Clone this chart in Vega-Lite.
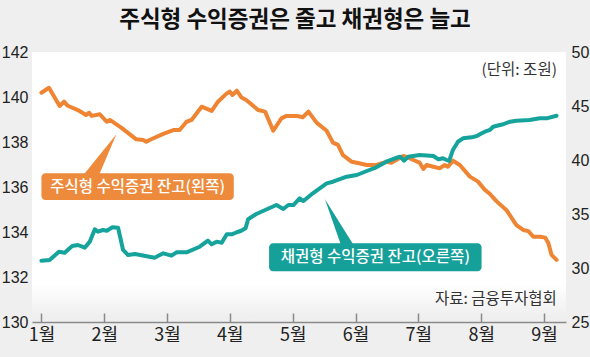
{
  "$schema": "https://vega.github.io/schema/vega-lite/v6.json",
  "width": 534,
  "height": 270,
  "autosize": {"type": "none"},
  "padding": {"left": 32, "top": 52, "right": 24, "bottom": 35},
  "background": "#efefef",
  "config": {
    "view": {"stroke": null, "fill": {"gradient": "linear", "x1": 0, "y1": 0, "x2": 0, "y2": 1, "stops": [{"offset": 0, "color": "#ffffff"}, {"offset": 0.86, "color": "#ffffff"}, {"offset": 0.98, "color": "#efefef"}]}}
  },
  "title": {
    "text": "주식형 수익증권은 줄고 채권형은 늘고",
    "font": "Noto Sans CJK KR",
    "fontSize": 22.5,
    "fontWeight": "bold",
    "color": "#111111",
    "anchor": "middle",
    "offset": 13,
    "dx": -4
  },
  "datasets": {
    "stock": [
      {"m": 0.0, "v": 140.19}, {"m": 0.12, "v": 140.41}, {"m": 0.29, "v": 139.6}, {"m": 0.36, "v": 139.79},
      {"m": 0.42, "v": 139.61}, {"m": 0.58, "v": 139.42}, {"m": 0.71, "v": 139.2}, {"m": 0.76, "v": 139.3},
      {"m": 0.8, "v": 139.16}, {"m": 0.93, "v": 139.23}, {"m": 1.04, "v": 138.9}, {"m": 1.09, "v": 138.98},
      {"m": 1.27, "v": 138.64}, {"m": 1.51, "v": 138.12}, {"m": 1.62, "v": 138.09}, {"m": 1.67, "v": 138.01},
      {"m": 1.72, "v": 138.09}, {"m": 1.94, "v": 138.36}, {"m": 2.1, "v": 138.53}, {"m": 2.2, "v": 138.53},
      {"m": 2.31, "v": 138.9}, {"m": 2.39, "v": 138.98}, {"m": 2.55, "v": 139.57}, {"m": 2.71, "v": 139.38},
      {"m": 2.81, "v": 139.79}, {"m": 2.95, "v": 140.16}, {"m": 3.0, "v": 140.24}, {"m": 3.04, "v": 140.09},
      {"m": 3.11, "v": 140.28}, {"m": 3.18, "v": 139.99}, {"m": 3.26, "v": 139.87}, {"m": 3.45, "v": 139.42},
      {"m": 3.56, "v": 139.35}, {"m": 3.69, "v": 138.5}, {"m": 3.82, "v": 139.05}, {"m": 3.9, "v": 139.16},
      {"m": 4.06, "v": 139.16}, {"m": 4.16, "v": 139.1}, {"m": 4.25, "v": 139.35}, {"m": 4.38, "v": 138.86},
      {"m": 4.54, "v": 138.5}, {"m": 4.64, "v": 137.97}, {"m": 4.72, "v": 137.87}, {"m": 4.8, "v": 137.42},
      {"m": 4.94, "v": 137.12}, {"m": 5.02, "v": 137.08}, {"m": 5.18, "v": 136.98}, {"m": 5.33, "v": 136.98},
      {"m": 5.49, "v": 137.12}, {"m": 5.57, "v": 137.08}, {"m": 5.76, "v": 137.38}, {"m": 5.84, "v": 137.3},
      {"m": 5.92, "v": 137.2}, {"m": 6.02, "v": 137.08}, {"m": 6.08, "v": 136.8}, {"m": 6.13, "v": 136.98},
      {"m": 6.24, "v": 136.9}, {"m": 6.34, "v": 136.83}, {"m": 6.42, "v": 136.98}, {"m": 6.47, "v": 136.9},
      {"m": 6.55, "v": 137.17}, {"m": 6.66, "v": 136.98}, {"m": 6.82, "v": 136.46}, {"m": 6.95, "v": 136.24},
      {"m": 7.06, "v": 135.87}, {"m": 7.14, "v": 135.69}, {"m": 7.25, "v": 135.35}, {"m": 7.4, "v": 134.98},
      {"m": 7.56, "v": 134.31}, {"m": 7.67, "v": 134.09}, {"m": 7.75, "v": 134.04}, {"m": 7.83, "v": 133.79},
      {"m": 7.94, "v": 133.79}, {"m": 8.02, "v": 133.75}, {"m": 8.07, "v": 133.5}, {"m": 8.12, "v": 132.98},
      {"m": 8.2, "v": 132.76}
    ],
    "bond": [
      {"m": 0.0, "v": 30.68}, {"m": 0.13, "v": 30.74}, {"m": 0.28, "v": 31.51}, {"m": 0.37, "v": 31.42},
      {"m": 0.49, "v": 32.04}, {"m": 0.58, "v": 32.13}, {"m": 0.69, "v": 31.88}, {"m": 0.77, "v": 32.44},
      {"m": 0.85, "v": 33.58}, {"m": 0.9, "v": 33.36}, {"m": 0.98, "v": 33.52}, {"m": 1.04, "v": 33.45},
      {"m": 1.13, "v": 33.77}, {"m": 1.22, "v": 33.73}, {"m": 1.3, "v": 31.67}, {"m": 1.38, "v": 31.2},
      {"m": 1.49, "v": 31.3}, {"m": 1.8, "v": 30.95}, {"m": 1.94, "v": 31.36}, {"m": 2.07, "v": 31.14},
      {"m": 2.15, "v": 31.45}, {"m": 2.31, "v": 31.45}, {"m": 2.52, "v": 31.97}, {"m": 2.65, "v": 32.53},
      {"m": 2.71, "v": 32.19}, {"m": 2.79, "v": 32.44}, {"m": 2.87, "v": 32.34}, {"m": 2.95, "v": 33.12},
      {"m": 3.03, "v": 33.12}, {"m": 3.11, "v": 33.31}, {"m": 3.18, "v": 33.45}, {"m": 3.25, "v": 33.68},
      {"m": 3.29, "v": 34.51}, {"m": 3.42, "v": 35.0}, {"m": 3.74, "v": 35.83}, {"m": 3.85, "v": 35.46},
      {"m": 3.93, "v": 35.83}, {"m": 4.01, "v": 35.83}, {"m": 4.11, "v": 36.45}, {"m": 4.17, "v": 36.2},
      {"m": 4.32, "v": 36.92}, {"m": 4.54, "v": 37.84}, {"m": 4.64, "v": 37.99}, {"m": 4.86, "v": 38.45},
      {"m": 5.02, "v": 38.61}, {"m": 5.18, "v": 38.98}, {"m": 5.33, "v": 39.32}, {"m": 5.49, "v": 39.84},
      {"m": 5.63, "v": 40.16}, {"m": 5.71, "v": 40.31}, {"m": 5.77, "v": 39.94}, {"m": 5.84, "v": 40.31},
      {"m": 6.02, "v": 40.46}, {"m": 6.24, "v": 40.37}, {"m": 6.32, "v": 40.06}, {"m": 6.39, "v": 40.16},
      {"m": 6.45, "v": 40.0}, {"m": 6.49, "v": 39.91}, {"m": 6.55, "v": 40.93}, {"m": 6.63, "v": 41.69},
      {"m": 6.71, "v": 42.01}, {"m": 6.85, "v": 42.1}, {"m": 6.93, "v": 42.22}, {"m": 7.01, "v": 42.47},
      {"m": 7.06, "v": 42.62}, {"m": 7.14, "v": 42.78}, {"m": 7.19, "v": 43.08}, {"m": 7.3, "v": 43.24},
      {"m": 7.35, "v": 43.31}, {"m": 7.46, "v": 43.55}, {"m": 7.56, "v": 43.64}, {"m": 7.77, "v": 43.7},
      {"m": 7.93, "v": 43.86}, {"m": 8.04, "v": 43.86}, {"m": 8.2, "v": 44.1}
    ],
    "stockBox": [{"m": 0.0, "m2": 3.062, "v": 136.61, "v2": 135.42, "label": "주식형 수익증권 잔고(왼쪽)", "cm": 1.532, "cv": 136.01, "pm": 0.928, "pv": 137.378}],
    "bondBox": [{"m": 3.624, "m2": 7.006, "v": 32.29, "v2": 29.69, "label": "채권형 수익증권 잔고(오른쪽)", "cm": 5.315, "cv": 31.0, "pm": 4.75, "pv": 34.26}],
    "notes": [
      {"m": 8.205, "v": 141.2, "label": "(단위:  조원)"},
      {"m": 8.205, "v": 131.02, "label": "자료: 금융투자협회"}
    ]
  },
  "layer": [
    {
      "layer": [
        {
          "data": {"name": "stock"},
          "mark": {"type": "line", "color": "#ef8533", "strokeWidth": 4, "strokeJoin": "round", "strokeCap": "round"},
          "encoding": {
            "x": {
              "field": "m", "type": "quantitative",
              "scale": {"domain": [-0.15, 8.35], "nice": false, "zero": false},
              "axis": {"title": null, "grid": false, "values": [0, 1, 2, 3, 4, 5, 6, 7, 8], "labelExpr": "(datum.value + 1) + '월'", "domainColor": "#8a8a8a", "domainWidth": 1.5, "tickColor": "#8a8a8a", "tickWidth": 1.5, "tickSize": -9, "labelPadding": 13, "labelFont": "Liberation Sans Narrow, Noto Sans CJK KR", "labelFontSize": 18, "labelColor": "#222222", "labelFlush": false}
            },
            "y": {
              "field": "v", "type": "quantitative",
              "scale": {"domain": [130, 142], "nice": false, "zero": false},
              "axis": {"title": null, "grid": false, "orient": "left", "values": [130, 132, 134, 136, 138, 140, 142], "ticks": false, "domain": false, "labelPadding": 4, "labelFont": "Liberation Sans Narrow, Liberation Sans", "labelFontSize": 16, "labelColor": "#222222"}
            }
          }
        },
        {
          "data": {"name": "stockBox"},
          "mark": {"type": "rect", "color": "#ee8a3c", "cornerRadius": 4},
          "encoding": {
            "x": {"field": "m", "type": "quantitative", "scale": {"domain": [-0.15, 8.35], "nice": false, "zero": false}},
            "x2": {"field": "m2"},
            "y": {"field": "v", "type": "quantitative", "scale": {"domain": [130, 142], "nice": false, "zero": false}},
            "y2": {"field": "v2"}
          }
        },
        {
          "data": {"name": "stockBox"},
          "mark": {"type": "point", "shape": "M0.668,-0.868L-0.08,0.88L-0.752,0.88Z", "size": 2500, "filled": true, "opacity": 1, "color": "#ee8a3c", "strokeWidth": 0},
          "encoding": {
            "x": {"field": "pm", "type": "quantitative", "scale": {"domain": [-0.15, 8.35], "nice": false, "zero": false}},
            "y": {"field": "pv", "type": "quantitative", "scale": {"domain": [130, 142], "nice": false, "zero": false}}
          }
        },
        {
          "data": {"name": "stockBox"},
          "mark": {"type": "text", "color": "#ffffff", "font": "Noto Sans CJK KR", "fontSize": 15.5, "fontWeight": 500, "align": "center", "baseline": "middle"},
          "encoding": {
            "x": {"field": "cm", "type": "quantitative", "scale": {"domain": [-0.15, 8.35], "nice": false, "zero": false}},
            "y": {"field": "cv", "type": "quantitative", "scale": {"domain": [130, 142], "nice": false, "zero": false}},
            "text": {"field": "label"}
          }
        },
        {
          "data": {"name": "notes"},
          "mark": {"type": "text", "color": "#333333", "font": "Noto Sans CJK KR", "fontSize": 15.5, "align": "right", "baseline": "middle"},
          "encoding": {
            "x": {"field": "m", "type": "quantitative", "scale": {"domain": [-0.15, 8.35], "nice": false, "zero": false}},
            "y": {"field": "v", "type": "quantitative", "scale": {"domain": [130, 142], "nice": false, "zero": false}},
            "text": {"field": "label"}
          }
        }
      ]
    },
    {
      "layer": [
        {
          "data": {"name": "bond"},
          "mark": {"type": "line", "color": "#15a39c", "strokeWidth": 4, "strokeJoin": "round", "strokeCap": "round"},
          "encoding": {
            "x": {"field": "m", "type": "quantitative", "scale": {"domain": [-0.15, 8.35], "nice": false, "zero": false}},
            "y": {
              "field": "v", "type": "quantitative",
              "scale": {"domain": [25, 50], "nice": false, "zero": false},
              "axis": {"title": null, "grid": false, "orient": "right", "values": [25, 30, 35, 40, 45, 50], "ticks": false, "domain": false, "labelPadding": 5, "labelFont": "Liberation Sans Narrow, Liberation Sans", "labelFontSize": 16, "labelColor": "#222222"}
            }
          }
        },
        {
          "data": {"name": "bondBox"},
          "mark": {"type": "rect", "color": "#16a09a", "cornerRadius": 4},
          "encoding": {
            "x": {"field": "m", "type": "quantitative", "scale": {"domain": [-0.15, 8.35], "nice": false, "zero": false}},
            "x2": {"field": "m2"},
            "y": {"field": "v", "type": "quantitative", "scale": {"domain": [25, 50], "nice": false, "zero": false}},
            "y2": {"field": "v2"}
          }
        },
        {
          "data": {"name": "bondBox"},
          "mark": {"type": "point", "shape": "M-0.6,-0.92L0.624,1.04L0.088,1.04Z", "size": 2500, "filled": true, "opacity": 1, "color": "#16a09a", "strokeWidth": 0},
          "encoding": {
            "x": {"field": "pm", "type": "quantitative", "scale": {"domain": [-0.15, 8.35], "nice": false, "zero": false}},
            "y": {"field": "pv", "type": "quantitative", "scale": {"domain": [25, 50], "nice": false, "zero": false}}
          }
        },
        {
          "data": {"name": "bondBox"},
          "mark": {"type": "text", "color": "#ffffff", "font": "Noto Sans CJK KR", "fontSize": 15.5, "fontWeight": 500, "align": "center", "baseline": "middle"},
          "encoding": {
            "x": {"field": "cm", "type": "quantitative", "scale": {"domain": [-0.15, 8.35], "nice": false, "zero": false}},
            "y": {"field": "cv", "type": "quantitative", "scale": {"domain": [25, 50], "nice": false, "zero": false}},
            "text": {"field": "label"}
          }
        }
      ]
    }
  ],
  "resolve": {"scale": {"y": "independent"}}
}
